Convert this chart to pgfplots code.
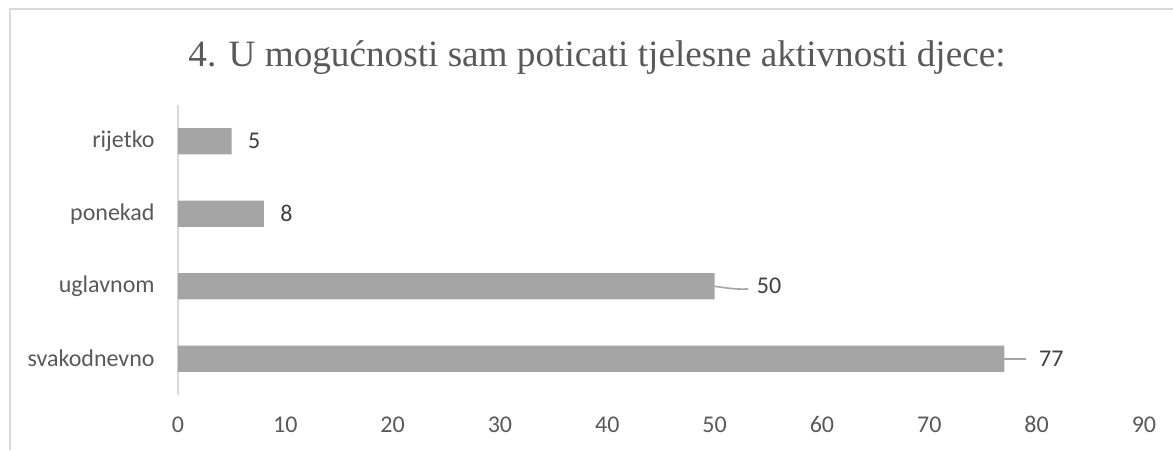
\documentclass[border=0pt]{standalone}
\usepackage{pgfplots}
\pgfplotsset{compat=1.18}
\usepackage{fontspec}
\setmainfont{Carlito}
\newfontfamily\titlefont{Liberation Serif}
\definecolor{barc}{HTML}{A5A5A5}
\definecolor{txt}{HTML}{595959}
\definecolor{lbl}{HTML}{404040}
\definecolor{brd}{HTML}{D9D9D9}
\begin{document}
\begin{tikzpicture}
\useasboundingbox (-89pt,-27.5pt) rectangle (497.5pt,197.5pt);
\draw[brd, line width=0.9pt] (-84pt,-27.5pt) -- (-84pt,193pt) -- (497.5pt,193pt);
\node[anchor=base, text=txt, font=\titlefont\fontsize{18.6}{21}\selectfont, inner sep=0pt] at (209.5pt,164pt) {4. U mogućnosti sam poticati tjelesne aktivnosti djece:};
\begin{axis}[at={(0,0)}, anchor=south west, scale only axis,
  width=483pt, height=145pt,
  xmin=0, xmax=90, ymin=-0.5, ymax=3.5,
  xtick={0,10,...,90}, ytick={0,1,2,3},
  yticklabels={svakodnevno,uglavnom,ponekad,rijetko},
  axis y line*=left, axis x line*=bottom,
  x axis line style={draw=none},
  y axis line style={draw=brd, line width=0.9pt, -},
  major tick length=0pt, tick style={draw=none},
  xticklabel style={anchor=base, yshift=-18.8pt, inner sep=0pt, text=txt, font=\fontsize{12}{14}\selectfont},
  yticklabel style={anchor=east, xshift=-11.5pt, inner sep=0pt, text=txt, font=\fontsize{12}{14}\selectfont},
  /pgf/number format/assume math mode=true,
  clip=false,
]
\addplot[xbar, bar width=0.36, fill=barc, draw=none] coordinates {(77,0) (50,1) (8,2) (5,3)};
\addplot[barc, line width=0.8pt, no marks, smooth] coordinates {(50,1.0) (51.2,0.975) (52.2,0.962) (53.1,0.962)};
\addplot[barc, line width=0.8pt, no marks] coordinates {(77,0) (79,0)};
\addplot[only marks, mark=none, nodes near coords, point meta=explicit symbolic,
  nodes near coords style={anchor=west, inner sep=0pt, text=lbl, font=\fontsize{12}{14}\selectfont}]
  coordinates {(6.5,3) [5] (9.5,2) [8] (53.9,1) [50] (80.2,0) [77]};
\end{axis}
\end{tikzpicture}
\end{document}
